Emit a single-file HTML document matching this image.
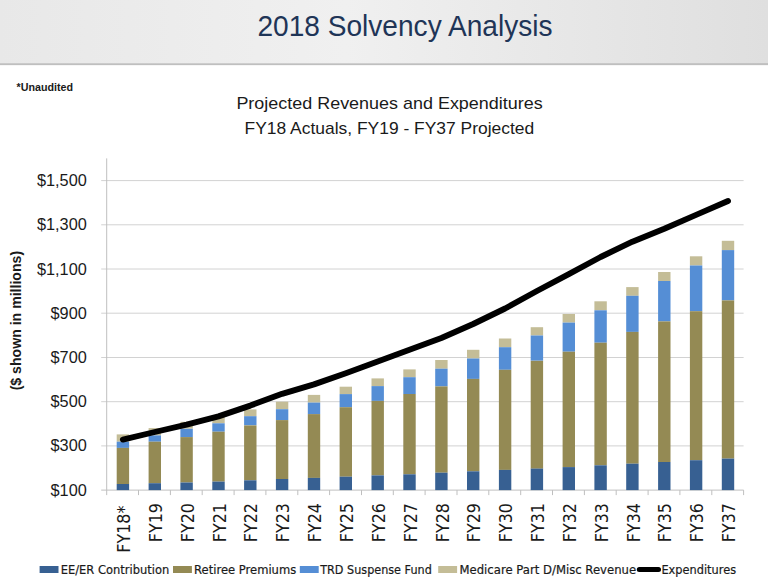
<!DOCTYPE html>
<html lang="en"><head><meta charset="utf-8"><title>2018 Solvency Analysis</title>
<style>
html,body{margin:0;padding:0;background:#fff;}
body{width:768px;height:583px;overflow:hidden;position:relative;font-family:"Liberation Sans",sans-serif;}
svg{position:absolute;left:0;top:0;display:block}
text{font-family:"Liberation Sans",sans-serif;fill:#1a1a1a}
.dj{font-family:"DejaVu Sans Condensed","DejaVu Sans",sans-serif}
.dj2{font-family:"DejaVu Sans",sans-serif;stroke:#1a1a1a;stroke-width:0.2px}
</style></head><body>
<svg width="768" height="583" viewBox="0 0 768 583">
<defs>
<linearGradient id="hg" x1="0" y1="0" x2="1" y2="0">
<stop offset="0" stop-color="#e8e8e8"/><stop offset="0.45" stop-color="#f0f0f0"/><stop offset="1" stop-color="#dfdfdf"/>
</linearGradient>
</defs>
<rect x="0" y="0" width="768" height="64" fill="url(#hg)"/>
<rect x="0" y="63.7" width="768" height="1" fill="#858585"/>
<rect x="0" y="64.7" width="768" height="1" fill="#f2f2f2"/>
<text x="257.4" y="36.4" font-size="29.5" textLength="295.2" lengthAdjust="spacingAndGlyphs" style="fill:#1f3557">2018 Solvency Analysis</text>
<text x="16.5" y="90.5" font-size="11.3" font-weight="bold" textLength="56.5" lengthAdjust="spacingAndGlyphs">*Unaudited</text>
<text x="236.4" y="108.9" font-size="16.4" textLength="306.3" lengthAdjust="spacingAndGlyphs">Projected Revenues and Expenditures</text>
<text x="244.6" y="133.7" font-size="16.4" textLength="289.6" lengthAdjust="spacingAndGlyphs">FY18 Actuals, FY19 - FY37 Projected</text>

<line x1="101.2" y1="180.6" x2="743.6" y2="180.6" stroke="#d2d2d2" stroke-width="1"/>
<text x="86.8" y="186.1" font-size="16.3" text-anchor="end">$1,500</text>
<line x1="101.2" y1="224.8" x2="743.6" y2="224.8" stroke="#d2d2d2" stroke-width="1"/>
<text x="86.8" y="230.3" font-size="16.3" text-anchor="end">$1,300</text>
<line x1="101.2" y1="269.0" x2="743.6" y2="269.0" stroke="#d2d2d2" stroke-width="1"/>
<text x="86.8" y="274.5" font-size="16.3" text-anchor="end">$1,100</text>
<line x1="101.2" y1="313.2" x2="743.6" y2="313.2" stroke="#d2d2d2" stroke-width="1"/>
<text x="86.8" y="318.7" font-size="16.3" text-anchor="end">$900</text>
<line x1="101.2" y1="357.5" x2="743.6" y2="357.5" stroke="#d2d2d2" stroke-width="1"/>
<text x="86.8" y="363.0" font-size="16.3" text-anchor="end">$700</text>
<line x1="101.2" y1="401.7" x2="743.6" y2="401.7" stroke="#d2d2d2" stroke-width="1"/>
<text x="86.8" y="407.2" font-size="16.3" text-anchor="end">$500</text>
<line x1="101.2" y1="445.9" x2="743.6" y2="445.9" stroke="#d2d2d2" stroke-width="1"/>
<text x="86.8" y="451.4" font-size="16.3" text-anchor="end">$300</text>
<line x1="101.2" y1="490.1" x2="743.6" y2="490.1" stroke="#c0c0c0" stroke-width="1"/>
<text x="86.8" y="495.6" font-size="16.3" text-anchor="end">$100</text>
<line x1="106.7" y1="158.4" x2="106.7" y2="495.1" stroke="#bfbfbf" stroke-width="1"/>
<line x1="138.5" y1="490.1" x2="138.5" y2="495.1" stroke="#bfbfbf" stroke-width="1"/>
<line x1="170.4" y1="490.1" x2="170.4" y2="495.1" stroke="#bfbfbf" stroke-width="1"/>
<line x1="202.2" y1="490.1" x2="202.2" y2="495.1" stroke="#bfbfbf" stroke-width="1"/>
<line x1="234.1" y1="490.1" x2="234.1" y2="495.1" stroke="#bfbfbf" stroke-width="1"/>
<line x1="265.9" y1="490.1" x2="265.9" y2="495.1" stroke="#bfbfbf" stroke-width="1"/>
<line x1="297.8" y1="490.1" x2="297.8" y2="495.1" stroke="#bfbfbf" stroke-width="1"/>
<line x1="329.6" y1="490.1" x2="329.6" y2="495.1" stroke="#bfbfbf" stroke-width="1"/>
<line x1="361.5" y1="490.1" x2="361.5" y2="495.1" stroke="#bfbfbf" stroke-width="1"/>
<line x1="393.3" y1="490.1" x2="393.3" y2="495.1" stroke="#bfbfbf" stroke-width="1"/>
<line x1="425.1" y1="490.1" x2="425.1" y2="495.1" stroke="#bfbfbf" stroke-width="1"/>
<line x1="457.0" y1="490.1" x2="457.0" y2="495.1" stroke="#bfbfbf" stroke-width="1"/>
<line x1="488.8" y1="490.1" x2="488.8" y2="495.1" stroke="#bfbfbf" stroke-width="1"/>
<line x1="520.7" y1="490.1" x2="520.7" y2="495.1" stroke="#bfbfbf" stroke-width="1"/>
<line x1="552.5" y1="490.1" x2="552.5" y2="495.1" stroke="#bfbfbf" stroke-width="1"/>
<line x1="584.4" y1="490.1" x2="584.4" y2="495.1" stroke="#bfbfbf" stroke-width="1"/>
<line x1="616.2" y1="490.1" x2="616.2" y2="495.1" stroke="#bfbfbf" stroke-width="1"/>
<line x1="648.1" y1="490.1" x2="648.1" y2="495.1" stroke="#bfbfbf" stroke-width="1"/>
<line x1="679.9" y1="490.1" x2="679.9" y2="495.1" stroke="#bfbfbf" stroke-width="1"/>
<line x1="711.8" y1="490.1" x2="711.8" y2="495.1" stroke="#bfbfbf" stroke-width="1"/>
<line x1="743.6" y1="490.1" x2="743.6" y2="495.1" stroke="#bfbfbf" stroke-width="1"/>
<rect x="116.7" y="434.4" width="12.4" height="7.3" fill="#c4bd97"/>
<rect x="116.7" y="441.7" width="12.4" height="6.2" fill="#558ed5"/>
<rect x="116.7" y="447.9" width="12.4" height="36.1" fill="#948a54"/>
<rect x="116.7" y="484.0" width="12.4" height="6.1" fill="#376092"/>
<rect x="148.6" y="428.1" width="12.4" height="7.3" fill="#c4bd97"/>
<rect x="148.6" y="435.4" width="12.4" height="6.3" fill="#558ed5"/>
<rect x="148.6" y="441.7" width="12.4" height="41.5" fill="#948a54"/>
<rect x="148.6" y="483.2" width="12.4" height="6.9" fill="#376092"/>
<rect x="180.4" y="421.8" width="12.4" height="6.9" fill="#c4bd97"/>
<rect x="180.4" y="428.8" width="12.4" height="8.4" fill="#558ed5"/>
<rect x="180.4" y="437.1" width="12.4" height="45.4" fill="#948a54"/>
<rect x="180.4" y="482.5" width="12.4" height="7.6" fill="#376092"/>
<rect x="212.3" y="416.0" width="12.4" height="7.3" fill="#c4bd97"/>
<rect x="212.3" y="423.3" width="12.4" height="8.4" fill="#558ed5"/>
<rect x="212.3" y="431.7" width="12.4" height="49.9" fill="#948a54"/>
<rect x="212.3" y="481.6" width="12.4" height="8.5" fill="#376092"/>
<rect x="244.1" y="409.4" width="12.4" height="6.9" fill="#c4bd97"/>
<rect x="244.1" y="416.2" width="12.4" height="9.1" fill="#558ed5"/>
<rect x="244.1" y="425.4" width="12.4" height="54.9" fill="#948a54"/>
<rect x="244.1" y="480.3" width="12.4" height="9.8" fill="#376092"/>
<rect x="275.9" y="401.7" width="12.4" height="7.5" fill="#c4bd97"/>
<rect x="275.9" y="409.2" width="12.4" height="10.9" fill="#558ed5"/>
<rect x="275.9" y="420.1" width="12.4" height="58.9" fill="#948a54"/>
<rect x="275.9" y="479.0" width="12.4" height="11.1" fill="#376092"/>
<rect x="307.8" y="394.9" width="12.4" height="7.7" fill="#c4bd97"/>
<rect x="307.8" y="402.6" width="12.4" height="11.5" fill="#558ed5"/>
<rect x="307.8" y="414.1" width="12.4" height="63.8" fill="#948a54"/>
<rect x="307.8" y="477.9" width="12.4" height="12.2" fill="#376092"/>
<rect x="339.6" y="386.7" width="12.4" height="7.4" fill="#c4bd97"/>
<rect x="339.6" y="394.1" width="12.4" height="13.1" fill="#558ed5"/>
<rect x="339.6" y="407.2" width="12.4" height="69.5" fill="#948a54"/>
<rect x="339.6" y="476.7" width="12.4" height="13.4" fill="#376092"/>
<rect x="371.5" y="378.4" width="12.4" height="7.7" fill="#c4bd97"/>
<rect x="371.5" y="386.1" width="12.4" height="14.8" fill="#558ed5"/>
<rect x="371.5" y="400.9" width="12.4" height="74.5" fill="#948a54"/>
<rect x="371.5" y="475.4" width="12.4" height="14.7" fill="#376092"/>
<rect x="403.3" y="369.4" width="12.4" height="7.8" fill="#c4bd97"/>
<rect x="403.3" y="377.2" width="12.4" height="16.8" fill="#558ed5"/>
<rect x="403.3" y="394.0" width="12.4" height="80.3" fill="#948a54"/>
<rect x="403.3" y="474.3" width="12.4" height="15.8" fill="#376092"/>
<rect x="435.2" y="360.0" width="12.4" height="8.7" fill="#c4bd97"/>
<rect x="435.2" y="368.7" width="12.4" height="17.7" fill="#558ed5"/>
<rect x="435.2" y="386.4" width="12.4" height="86.3" fill="#948a54"/>
<rect x="435.2" y="472.7" width="12.4" height="17.4" fill="#376092"/>
<rect x="467.0" y="349.8" width="12.4" height="8.7" fill="#c4bd97"/>
<rect x="467.0" y="358.5" width="12.4" height="20.4" fill="#558ed5"/>
<rect x="467.0" y="378.9" width="12.4" height="92.4" fill="#948a54"/>
<rect x="467.0" y="471.3" width="12.4" height="18.8" fill="#376092"/>
<rect x="498.9" y="338.5" width="12.4" height="8.7" fill="#c4bd97"/>
<rect x="498.9" y="347.2" width="12.4" height="22.6" fill="#558ed5"/>
<rect x="498.9" y="369.8" width="12.4" height="100.1" fill="#948a54"/>
<rect x="498.9" y="469.9" width="12.4" height="20.2" fill="#376092"/>
<rect x="530.7" y="327.2" width="12.4" height="8.3" fill="#c4bd97"/>
<rect x="530.7" y="335.5" width="12.4" height="25.2" fill="#558ed5"/>
<rect x="530.7" y="360.8" width="12.4" height="107.9" fill="#948a54"/>
<rect x="530.7" y="468.6" width="12.4" height="21.5" fill="#376092"/>
<rect x="562.6" y="314.0" width="12.4" height="8.6" fill="#c4bd97"/>
<rect x="562.6" y="322.6" width="12.4" height="29.1" fill="#558ed5"/>
<rect x="562.6" y="351.7" width="12.4" height="115.4" fill="#948a54"/>
<rect x="562.6" y="467.1" width="12.4" height="23.0" fill="#376092"/>
<rect x="594.4" y="301.3" width="12.4" height="9.0" fill="#c4bd97"/>
<rect x="594.4" y="310.3" width="12.4" height="32.4" fill="#558ed5"/>
<rect x="594.4" y="342.7" width="12.4" height="122.6" fill="#948a54"/>
<rect x="594.4" y="465.3" width="12.4" height="24.8" fill="#376092"/>
<rect x="626.2" y="287.1" width="12.4" height="8.7" fill="#c4bd97"/>
<rect x="626.2" y="295.8" width="12.4" height="36.1" fill="#558ed5"/>
<rect x="626.2" y="331.9" width="12.4" height="131.8" fill="#948a54"/>
<rect x="626.2" y="463.7" width="12.4" height="26.4" fill="#376092"/>
<rect x="658.1" y="272.0" width="12.4" height="9.0" fill="#c4bd97"/>
<rect x="658.1" y="281.0" width="12.4" height="40.4" fill="#558ed5"/>
<rect x="658.1" y="321.4" width="12.4" height="140.6" fill="#948a54"/>
<rect x="658.1" y="462.0" width="12.4" height="28.1" fill="#376092"/>
<rect x="689.9" y="256.3" width="12.4" height="9.2" fill="#c4bd97"/>
<rect x="689.9" y="265.5" width="12.4" height="45.7" fill="#558ed5"/>
<rect x="689.9" y="311.2" width="12.4" height="149.0" fill="#948a54"/>
<rect x="689.9" y="460.2" width="12.4" height="29.9" fill="#376092"/>
<rect x="721.8" y="240.8" width="12.4" height="9.3" fill="#c4bd97"/>
<rect x="721.8" y="250.1" width="12.4" height="50.3" fill="#558ed5"/>
<rect x="721.8" y="300.4" width="12.4" height="158.2" fill="#948a54"/>
<rect x="721.8" y="458.6" width="12.4" height="31.5" fill="#376092"/>
<polyline points="122.9,439.6 154.8,432.0 186.6,424.6 218.5,416.4 250.3,405.6 282.1,393.8 314.0,384.4 345.8,373.2 377.7,361.6 409.5,349.8 441.4,338.0 473.2,324.0 505.1,308.5 536.9,291.0 568.8,274.2 600.6,257.0 632.4,241.7 664.3,228.8 696.1,214.9 728.0,201.0" fill="none" stroke="#000" stroke-width="5.9" stroke-linecap="round" stroke-linejoin="round"/>
<text class="dj" transform="translate(130.0,505.6) rotate(-90)" font-size="17.7" text-anchor="end">FY18*</text>
<text class="dj" transform="translate(161.9,503.0) rotate(-90)" font-size="17.7" text-anchor="end">FY19</text>
<text class="dj" transform="translate(193.7,503.0) rotate(-90)" font-size="17.7" text-anchor="end">FY20</text>
<text class="dj" transform="translate(225.6,503.0) rotate(-90)" font-size="17.7" text-anchor="end">FY21</text>
<text class="dj" transform="translate(257.4,503.0) rotate(-90)" font-size="17.7" text-anchor="end">FY22</text>
<text class="dj" transform="translate(289.2,503.0) rotate(-90)" font-size="17.7" text-anchor="end">FY23</text>
<text class="dj" transform="translate(321.1,503.0) rotate(-90)" font-size="17.7" text-anchor="end">FY24</text>
<text class="dj" transform="translate(352.9,503.0) rotate(-90)" font-size="17.7" text-anchor="end">FY25</text>
<text class="dj" transform="translate(384.8,503.0) rotate(-90)" font-size="17.7" text-anchor="end">FY26</text>
<text class="dj" transform="translate(416.6,503.0) rotate(-90)" font-size="17.7" text-anchor="end">FY27</text>
<text class="dj" transform="translate(448.5,503.0) rotate(-90)" font-size="17.7" text-anchor="end">FY28</text>
<text class="dj" transform="translate(480.3,503.0) rotate(-90)" font-size="17.7" text-anchor="end">FY29</text>
<text class="dj" transform="translate(512.2,503.0) rotate(-90)" font-size="17.7" text-anchor="end">FY30</text>
<text class="dj" transform="translate(544.0,503.0) rotate(-90)" font-size="17.7" text-anchor="end">FY31</text>
<text class="dj" transform="translate(575.9,503.0) rotate(-90)" font-size="17.7" text-anchor="end">FY32</text>
<text class="dj" transform="translate(607.7,503.0) rotate(-90)" font-size="17.7" text-anchor="end">FY33</text>
<text class="dj" transform="translate(639.5,503.0) rotate(-90)" font-size="17.7" text-anchor="end">FY34</text>
<text class="dj" transform="translate(671.4,503.0) rotate(-90)" font-size="17.7" text-anchor="end">FY35</text>
<text class="dj" transform="translate(703.2,503.0) rotate(-90)" font-size="17.7" text-anchor="end">FY36</text>
<text class="dj" transform="translate(735.1,503.0) rotate(-90)" font-size="17.7" text-anchor="end">FY37</text>
<text transform="translate(21.0,320.6) rotate(-90)" font-size="14" font-weight="bold" text-anchor="middle" textLength="139.5" lengthAdjust="spacingAndGlyphs">($ shown in millions)</text>
<rect x="39.6" y="566" width="18.9" height="7" fill="#376092"/>
<text class="dj2" x="60.7" y="573.6" font-size="12.1" textLength="108.5" lengthAdjust="spacingAndGlyphs">EE/ER Contribution</text>
<rect x="173.0" y="566" width="18.9" height="7" fill="#948a54"/>
<text class="dj2" x="194.1" y="573.6" font-size="12.1" textLength="102.1" lengthAdjust="spacingAndGlyphs">Retiree Premiums</text>
<rect x="299.8" y="566" width="18.9" height="7" fill="#558ed5"/>
<text class="dj2" x="320.2" y="573.6" font-size="12.1" textLength="111.6" lengthAdjust="spacingAndGlyphs">TRD Suspense Fund</text>
<rect x="438.2" y="566" width="18.9" height="7" fill="#c4bd97"/>
<text class="dj2" x="459.5" y="573.6" font-size="12.1" textLength="176.6" lengthAdjust="spacingAndGlyphs">Medicare Part D/Misc Revenue</text>
<text class="dj2" x="661.4" y="573.6" font-size="12.1" textLength="74.7" lengthAdjust="spacingAndGlyphs">Expenditures</text>
<line x1="639.3" y1="569.5" x2="658.5" y2="569.5" stroke="#000" stroke-width="5" stroke-linecap="round"/>
</svg></body></html>
